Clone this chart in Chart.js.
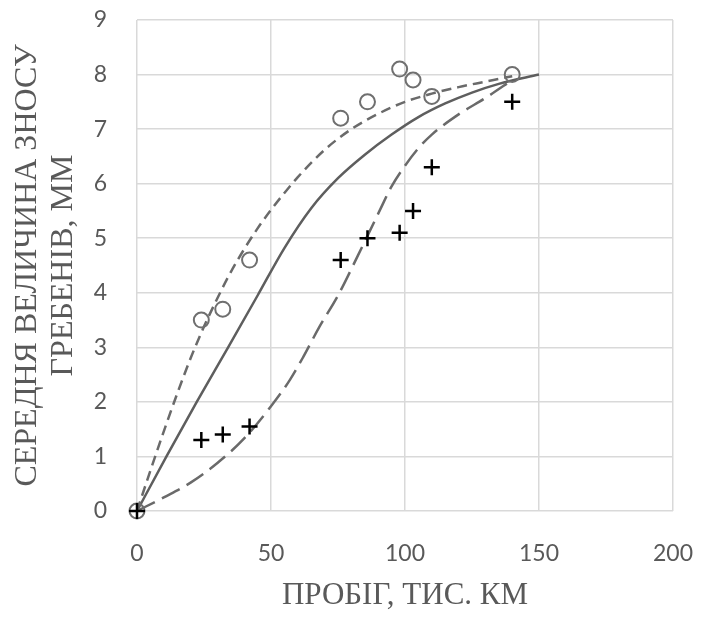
<!DOCTYPE html>
<html>
<head>
<meta charset="utf-8">
<script src="https://cdn.jsdelivr.net/npm/chart.js@4.4.1/dist/chart.umd.min.js"></script>
<style>
  html, body { margin: 0; padding: 0; background: #fff; }
  #wrap { width: 703px; height: 618px; }
</style>
</head>
<body>
<div id="wrap"><canvas id="wearChart" width="703" height="618"></canvas></div>
<script>
// measured points (mileage, thousand km)
const mileage = [0, 24, 32, 42, 76, 86, 98, 103, 110, 140];
const wearCircles = [0, 3.5, 3.7, 4.6, 7.2, 7.5, 8.1, 7.9, 7.6, 8.0];
const wearCrosses = [0, 1.3, 1.4, 1.55, 4.6, 5.0, 5.1, 5.5, 6.3, 7.5];

// trend lines
const shortDashX = [0, 5, 10, 15, 20, 25, 30, 35, 40, 45, 50, 55, 60, 70, 80, 90, 100, 110, 120, 130, 140];
const shortDashY = [0, 0.74, 1.46, 2.15, 2.8, 3.38, 3.9, 4.38, 4.8, 5.18, 5.52, 5.83, 6.12, 6.62, 7.0, 7.28, 7.5, 7.65, 7.77, 7.87, 7.97];

const solidX = [0, 11, 22.3, 34, 45, 55, 65, 75, 85, 95, 105, 115, 125, 135, 150];
const solidY = [0, 1, 2, 3, 3.95, 4.82, 5.55, 6.1, 6.53, 6.9, 7.22, 7.47, 7.67, 7.83, 8.0];

const longDashX = [0, 10, 20, 30, 40, 50, 57, 62, 68, 75, 82.5, 90, 95, 100, 105, 110, 120, 130, 140];
const longDashY = [0, 0.25, 0.52, 0.88, 1.33, 1.92, 2.4, 2.82, 3.37, 3.95, 4.69, 5.45, 5.95, 6.33, 6.65, 6.9, 7.27, 7.57, 7.9];

const xTicks = [0, 50, 100, 150, 200];
const yTitleLines = ['СЕРЕДНЯ ВЕЛИЧИНА ЗНОСУ', 'ГРЕБЕНІВ, ММ'];
const xTitle = 'ПРОБІГ, ТИС. КМ';

const toPoints = (xs, ys) => xs.map((x, i) => ({ x: x, y: ys[i] }));

function curve(xs, ys, dash, color) {
    return {
        data: toPoints(xs, ys),
        showLine: true,
        pointRadius: 0,
        borderColor: color,
        borderWidth: 2.5,
        borderDash: dash,
        cubicInterpolationMode: 'monotone',
        fill: false
    };
}

const ctx = document.getElementById('wearChart').getContext('2d');
new Chart(ctx, {
    type: 'scatter',
    data: {
        datasets: [
            {
                data: toPoints(mileage, wearCrosses),
                pointStyle: 'cross',
                pointRadius: 8,
                pointBorderWidth: 2.5,
                borderColor: '#000',
                backgroundColor: '#000'
            },
            {
                data: toPoints(mileage, wearCircles),
                pointStyle: 'circle',
                pointRadius: 7.5,
                pointBorderWidth: 2,
                borderColor: '#6f6f6f',
                backgroundColor: 'rgba(0,0,0,0)'
            },
            curve(shortDashX, shortDashY, [10, 6], '#6a6a6a'),
            curve(solidX, solidY, [], '#5e5e5e'),
            curve(longDashX, longDashY, [20, 8], '#6a6a6a')
        ]
    },
    options: {
        responsive: false,
        animation: false,
        clip: false,
        layout: { padding: { top: 20, right: 30, left: 0, bottom: 0 } },
        plugins: {
            legend: { display: false },
            tooltip: { enabled: false }
        },
        scales: {
            x: {
                type: 'linear',
                min: 0,
                max: 200,
                afterBuildTicks: s => { s.ticks = xTicks.map(v => ({ value: v })); },
                afterFit: s => {
                    s.height = 107;
                    s.paddingLeft = 0;
                    s.paddingRight = 0;
                },
                grid: { color: '#d9d9d9', lineWidth: 1.5, drawTicks: false },
                border: { display: false },
                ticks: {
                    padding: 29,
                    color: '#595959',
                    font: { family: 'Lato', size: 23 }
                },
                title: {
                    display: true,
                    text: xTitle,
                    color: '#595959',
                    padding: { top: 4 },
                    font: { family: 'Liberation Serif', size: 31 }
                }
            },
            y: {
                min: 0,
                max: 9,
                afterFit: s => {
                    s.width = 137;
                    s.paddingTop = 0;
                    s.paddingBottom = 0;
                },
                grid: { color: '#d9d9d9', lineWidth: 1.5, drawTicks: false },
                border: { display: false },
                ticks: {
                    stepSize: 1,
                    padding: 30,
                    color: '#595959',
                    font: { family: 'Lato', size: 23 }
                },
                title: {
                    display: true,
                    text: yTitleLines,
                    color: '#595959',
                    padding: { top: 10, bottom: 0 },
                    font: { family: 'Liberation Serif', size: 32, lineHeight: 1.12 }
                }
            }
        }
    }
});
</script>
</body>
</html>
